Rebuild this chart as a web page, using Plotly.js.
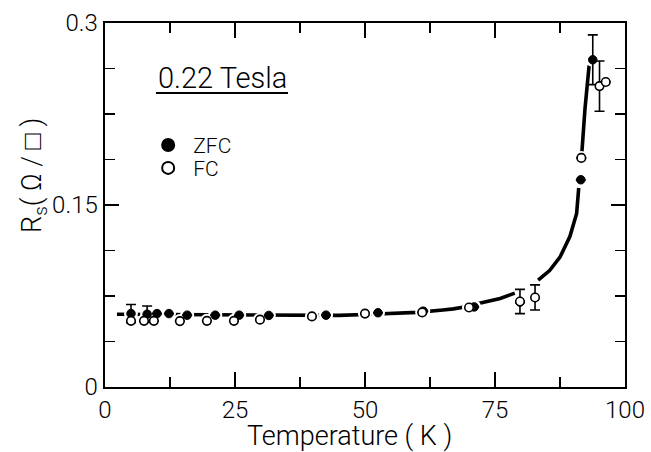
<!DOCTYPE html>
<html>
<head>
<meta charset="utf-8">
<script src="https://cdn.plot.ly/plotly-3.0.1.min.js"></script>
<style>html,body{margin:0;padding:0;background:#fff;}#chart{width:651px;height:452px;}</style>
</head>
<body>
<div id="chart"></div>
<script>
// ---- data ----
var zfcT   = [5.0, 8.1, 10.0, 12.3, 15.8, 21.2, 25.8, 31.5, 42.5, 52.5, 61.2, 71.0, 79.8, 91.5, 93.8];
var zfcR   = [0.0605, 0.0600, 0.0605, 0.0605, 0.0592, 0.0592, 0.0592, 0.0590, 0.0592, 0.0612, 0.0625, 0.0660, 0.0700, 0.1708, 0.2697];
var zfcErr = [0.0075, 0.0068, 0, 0, 0, 0, 0, 0, 0, 0, 0, 0, 0, 0, 0.0205];

var fcT    = [5.0, 7.5, 9.4, 14.4, 19.6, 24.8, 29.8, 39.8, 50.0, 61.0, 70.0, 79.8, 82.7, 91.6, 95.1, 96.3];
var fcR    = [0.0545, 0.0545, 0.0545, 0.0543, 0.0545, 0.0545, 0.0555, 0.0582, 0.0605, 0.0615, 0.0655, 0.0705, 0.0738, 0.1888, 0.2480, 0.2514];
var fcErr  = [0, 0, 0, 0, 0, 0, 0, 0, 0, 0, 0, 0.0100, 0.0104, 0, 0.0207, 0];

var curveT = [2.3, 10, 20, 30, 40, 45, 50, 55, 60, 65, 67, 70, 72, 76, 78.8, null, 83.3, 85.5, 87.5, 89.4, 90.7, 91.1, null, 91.7, 92.3, 93.1];
var curveR = [0.0600, 0.0598, 0.0594, 0.0591, 0.0590, 0.0590, 0.0598, 0.0605, 0.0615, 0.0635, 0.0644, 0.0665, 0.0690, 0.0730, 0.0774, null, 0.0880, 0.0960, 0.1070, 0.1240, 0.1430, 0.1640, null, 0.1930, 0.2290, 0.2650];

var xTickVals = [0, 25, 50, 75, 100];
var xTickText = ["0", "25", "50", "75", "100"];
var yTickVals = [0, 0.15, 0.3];
var yTickText = ["0", "0.15", "0.3"];
var yMinorVals = [0.0375, 0.075, 0.1125, 0.1875, 0.225, 0.2625];

var FONT = "Roboto, 'Liberation Sans', Arial, sans-serif";

var traces = [
  {x: curveT, y: curveR, mode: "lines", line: {color: "#000", width: 3.6}, connectgaps: false,
   showlegend: false, hoverinfo: "skip"},
  {x: zfcT, y: zfcR, mode: "markers", marker: {size: 14, color: "#fff"}, showlegend: false, hoverinfo: "skip"},
  {x: fcT, y: fcR, mode: "markers", marker: {size: 14, color: "#fff"}, showlegend: false, hoverinfo: "skip"},
  {x: zfcT, y: zfcR, name: "\u00a0ZFC", mode: "markers", legend: "legend",
   marker: {size: 8.5, color: "#000", line: {color: "#000", width: 1}},
   error_y: {type: "data", array: zfcErr, visible: true, color: "#000", thickness: 1.6, width: 5}},
  {x: fcT, y: fcR, name: "\u00a0FC", mode: "markers", legend: "legend2",
   marker: {size: 8.5, color: "#fff", line: {color: "#000", width: 1.6}},
   error_y: {type: "data", array: fcErr, visible: true, color: "#000", thickness: 1.6, width: 5}}
];

var axisCommon = {
  showline: true, linecolor: "#000", linewidth: 2.4, mirror: "ticks",
  ticks: "inside", tickcolor: "#000", tickwidth: 1.6,
  showgrid: false, zeroline: false,
  tickfont: {family: FONT, size: 24, color: "#000", weight: 300}
};

var titleFont = {family: FONT, size: 27, color: "#000", weight: 300};

var layout = {
  width: 651, height: 452,
  margin: {l: 105, r: 26, t: 23, b: 65},
  paper_bgcolor: "#fff", plot_bgcolor: "#fff",
  font: {family: FONT, color: "#000", weight: 300},
  xaxis: Object.assign({}, axisCommon, {
    range: [0, 100], tickmode: "array", tickvals: xTickVals, ticktext: xTickText, ticklen: 15,
    minor: {dtick: 12.5, ticks: "inside", ticklen: 10, tickcolor: "#000", tickwidth: 1.6}
  }),
  yaxis: Object.assign({}, axisCommon, {
    range: [0, 0.3], tickmode: "array", tickvals: yTickVals, ticktext: yTickText, ticklen: 14,
    minor: {tickvals: yMinorVals, ticks: "inside", ticklen: 10, tickcolor: "#000", tickwidth: 1.6}
  }),
  legend: {x: 0.083, y: 0.664, xanchor: "left", yanchor: "middle", bgcolor: "rgba(0,0,0,0)",
           font: {family: FONT, size: 21, color: "#000", weight: 300}, itemsizing: "constant"},
  legend2: {x: 0.083, y: 0.601, xanchor: "left", yanchor: "middle", bgcolor: "rgba(0,0,0,0)",
           font: {family: FONT, size: 21, color: "#000", weight: 300}, itemsizing: "constant"},
  annotations: [
    {xref: "paper", yref: "paper", x: 0.225, y: 0.849, xanchor: "center", yanchor: "middle",
     text: "0.22 Tesla", showarrow: false, font: {family: FONT, size: 29, color: "#000", weight: 300}},
    {xref: "paper", yref: "paper", x: (349 - 105) / 520, y: (387 - 436) / 364, xanchor: "center", yanchor: "middle",
     text: "Temperature ( K )", showarrow: false, font: titleFont},
    {xref: "paper", yref: "paper", x: (34 - 105) / 520, y: (387 - 176) / 364, xanchor: "center", yanchor: "middle",
     text: "R<sub>s</sub>( Ω / □ )", textangle: -90, showarrow: false, font: titleFont}
  ],
  shapes: [
    {type: "line", xref: "paper", yref: "paper", x0: 0.098, x1: 0.352, y0: 0.8077, y1: 0.8077,
     line: {color: "#000", width: 1.8}}
  ]
};

Plotly.newPlot("chart", traces, layout, {staticPlot: true, displayModeBar: false});
</script>
</body>
</html>
